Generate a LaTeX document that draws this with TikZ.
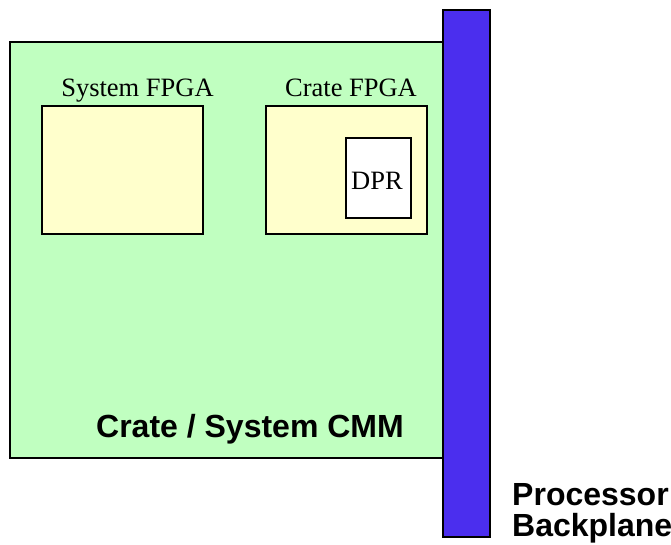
\documentclass[tikz,border=0pt]{standalone}
\usepackage{fontspec}
\setmainfont{Liberation Serif}
\setsansfont{Liberation Sans}
\definecolor{boardgreen}{RGB}{192,255,192}
\definecolor{chipyellow}{RGB}{255,255,204}
\definecolor{planeblue}{RGB}{75,46,238}
\begin{document}
\begin{tikzpicture}[x=1pt,y=-1pt,
  part/.style={draw=black,line width=2pt},
  serifl/.style={font=\fontsize{26.5}{30}\selectfont,inner sep=0pt},
  boldl/.style={font=\fontsize{32}{31}\selectfont\sffamily\bfseries,inner sep=0pt}]
  \useasboundingbox (0,0) rectangle (671,545);
  % CMM board
  \draw[part,fill=boardgreen] (10,42) rectangle (443,458);
  % FPGAs
  \draw[part,fill=chipyellow] (42,106) rectangle (203,234);
  \draw[part,fill=chipyellow] (266,106) rectangle (427,234);
  \draw[part,fill=white] (346,138) rectangle (411,218);
  % backplane
  \draw[part,fill=planeblue] (443,10) rectangle (490,537);
  % labels
  \node[serifl,anchor=base] (sys) at (137.5,97) {System FPGA};
  \node[serifl,anchor=base] (crate) at (351,97) {Crate FPGA};
  \node[serifl,anchor=base] (dpr) at (377,190) {DPR};
  \node[boldl,anchor=base] (cmm) at (250,437) {Crate / System CMM};
  \node[boldl,anchor=base west,align=left] (bp) at (512,505) {Processor};
  \node[boldl,anchor=base west,align=left] (bp2) at (512,536) {Backplane};
\end{tikzpicture}
\end{document}
